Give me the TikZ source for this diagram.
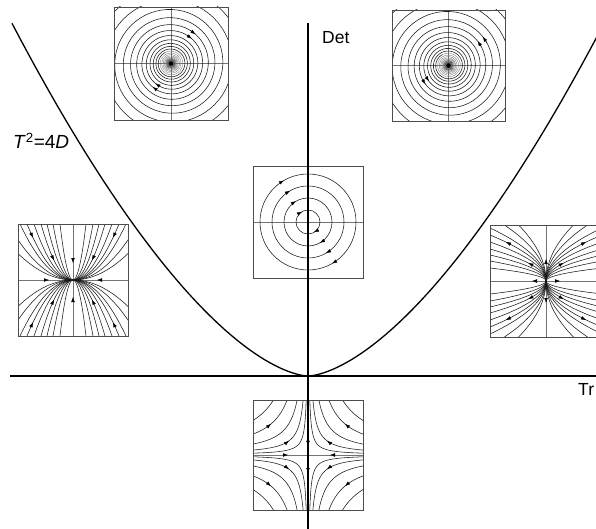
\documentclass[tikz,border=0pt]{standalone}
\usepackage{fontspec}
\setmainfont{Liberation Sans}
\usetikzlibrary{arrows.meta}
\newcommand\SpArr[2]{\draw[ah] ({85*exp(-0.000454*(#1))*cos(#1)},{85*exp(-0.000454*(#1))*sin(#1)}) -- ({85*exp(-0.000454*(#2))*cos(#2)},{85*exp(-0.000454*(#2))*sin(#2)});}
\newcommand\Ah[4]{\draw[ah] ({#1-#3},{#2-#4}) -- (#1,#2);}
\begin{document}
\begin{tikzpicture}[x=1pt,y=-1pt,
  boxnode/.style={inner sep=0pt, outer sep=0pt, fill=white},
  frame/.style={draw=black!70, line width=0.9pt},
  inaxis/.style={draw=black!55, line width=0.7pt},
  traj/.style={draw=black!90, line width=0.55pt},
  trajthin/.style={draw=black!60, line width=0.3pt},
  mainaxis/.style={draw=black, line width=1.1pt},
  curve/.style={draw=black, line width=1.3pt},
  ah/.style={draw=black, line width=0.4pt, -{Latex[length=5pt,width=3.6pt]}},
  lab/.style={anchor=base west, inner sep=0pt, font=\fontsize{17.5}{20}\selectfont}]

\useasboundingbox (0,0) rectangle (596,529);

% ---------- boxes ----------
\node[boxnode, minimum width=114pt, minimum height=113pt] (stabsp) at (171,63.5) {};
\node[boxnode, minimum width=113pt, minimum height=111pt] (unstsp) at (448.5,65.5) {};
\node[boxnode, minimum width=110pt, minimum height=112pt] (centre) at (308,222) {};
\node[boxnode, minimum width=110pt, minimum height=112pt] (snode) at (73,280) {};
\node[boxnode, minimum width=112pt, minimum height=112pt] (unode) at (546,281) {};
\node[boxnode, minimum width=110pt, minimum height=110pt] (saddle) at (308,455) {};

% ---------- stable spiral ----------
\begin{scope}
  \clip (stabsp.south west) rectangle (stabsp.north east);
  \draw[inaxis] (stabsp.west) -- (stabsp.east) (stabsp.north) -- (stabsp.south);
  \begin{scope}[shift={(stabsp.center)}]
    \draw[traj] plot[domain=0:4200, samples=700] ({85*exp(-0.000454*\x)*cos(\x)},{85*exp(-0.000454*\x)*sin(\x)});
    \draw[trajthin] plot[domain=4200:8900, samples=900] ({85*exp(-0.000454*\x)*cos(\x)},{85*exp(-0.000454*\x)*sin(\x)});
    \fill (0,0) circle (2.3pt);
    \SpArr{1740}{1750}
    \SpArr{2100}{2110}
    \SpArr{2278}{2288}
    \SpArr{2638}{2648}
  \end{scope}
\end{scope}
\draw[frame] (stabsp.south west) rectangle (stabsp.north east);

% ---------- unstable spiral ----------
\begin{scope}
  \clip (unstsp.south west) rectangle (unstsp.north east);
  \draw[inaxis] (unstsp.west) -- (unstsp.east) (unstsp.north) -- (unstsp.south);
  \begin{scope}[shift={(unstsp.center)}]
    \draw[traj] plot[domain=0:4200, samples=700] ({85*exp(-0.000454*\x)*cos(\x)},{85*exp(-0.000454*\x)*sin(\x)});
    \draw[trajthin] plot[domain=4200:8900, samples=900] ({85*exp(-0.000454*\x)*cos(\x)},{85*exp(-0.000454*\x)*sin(\x)});
    \fill (0,0) circle (2.3pt);
    \SpArr{1410}{1400}
    \SpArr{1770}{1760}
    \SpArr{2311}{2301}
    \SpArr{2671}{2661}
  \end{scope}
\end{scope}
\draw[frame] (unstsp.south west) rectangle (unstsp.north east);

% ---------- centre ----------
\begin{scope}
  \clip (centre.south west) rectangle (centre.north east);
  \draw[inaxis] (centre.west) -- (centre.east) (centre.north) -- (centre.south);
  \begin{scope}[shift={(centre.center)}]
    \foreach \r in {12,24,36,48}{
      \draw[traj] (0,0) circle (\r pt);
      \Ah{-0.5*\r}{-0.866*\r}{2.6}{-1.5}
      \Ah{0.5*\r}{0.866*\r}{-2.6}{1.5}
    }
  \end{scope}
\end{scope}
\draw[frame] (centre.south west) rectangle (centre.north east);

% ---------- stable node ----------
\begin{scope}
  \clip (snode.south west) rectangle (snode.north east);
  \draw[inaxis] (snode.west) -- (snode.east) (snode.north) -- (snode.south);
  \begin{scope}[shift={(snode.center)}]
    \foreach \a in {13,20,26,32,39,46,53,65,80}{
      \pgfmathsetmacro\mm{min(1.08*\a,58)}
      \draw[traj] plot[domain=-\mm:\mm, samples=61] (\x,{-56*(\x/\a)*(\x/\a)});
      \draw[traj] plot[domain=-\mm:\mm, samples=61] (\x,{56*(\x/\a)*(\x/\a)});
    }
    \Ah{-24}{0}{3}{0}
    \Ah{24}{0}{-3}{0}
    \Ah{0}{-17}{0}{3}
    \Ah{0}{17}{0}{-3}
    \Ah{-40}{-42.3}{1.28}{2.71}
    \Ah{40}{-42.3}{-1.28}{2.71}
    \Ah{-40}{42.3}{1.28}{-2.71}
    \Ah{40}{42.3}{-1.28}{-2.71}
    \Ah{-19}{-19.7}{1.32}{2.7}
    \Ah{19}{-19.7}{-1.32}{2.7}
    \Ah{-19}{19.7}{1.32}{-2.7}
    \Ah{19}{19.7}{-1.32}{-2.7}
  \end{scope}
\end{scope}
\draw[frame] (snode.south west) rectangle (snode.north east);

% ---------- unstable node ----------
\begin{scope}
  \clip (unode.south west) rectangle (unode.north east);
  \draw[inaxis] (unode.west) -- (unode.east) (unode.north) -- (unode.south);
  \begin{scope}[shift={(unode.center)}]
    \foreach \a in {13,20,26,32,39,46,53,65,80}{
      \pgfmathsetmacro\mm{min(1.08*\a,58)}
      \draw[traj] plot[domain=-\mm:\mm, samples=61] ({-56*(\x/\a)*(\x/\a)},\x);
      \draw[traj] plot[domain=-\mm:\mm, samples=61] ({56*(\x/\a)*(\x/\a)},\x);
    }
    \Ah{-14}{0}{-3}{0}
    \Ah{14}{0}{3}{0}
    \Ah{0}{-22}{0}{-3}
    \Ah{0}{22}{0}{3}
    \Ah{-40}{-39}{-2.7}{-1.32}
    \Ah{40}{-39}{2.7}{-1.32}
    \Ah{-40}{39}{-2.7}{1.32}
    \Ah{40}{39}{2.7}{1.32}
    \Ah{-17.7}{-18}{-2.68}{-1.36}
    \Ah{17.7}{-18}{2.68}{-1.36}
    \Ah{-17.7}{18}{-2.68}{1.36}
    \Ah{17.7}{18}{2.68}{1.36}
  \end{scope}
\end{scope}
\draw[frame] (unode.south west) rectangle (unode.north east);

% ---------- saddle ----------
\begin{scope}
  \clip (saddle.south west) rectangle (saddle.north east);
  \draw[inaxis] (saddle.west) -- (saddle.east) (saddle.north) -- (saddle.south);
  \begin{scope}[shift={(saddle.center)}]
    \foreach \c in {100,270,600,1150,1900}{
      \pgfmathsetmacro\sq{sqrt(\c)}
      \pgfmathsetmacro\Lm{ln(60/\sq)}
      \foreach \sgx/\sgy in {1/1,1/-1,-1/1,-1/-1}{
        \draw[traj] plot[domain=-\Lm:\Lm, samples=50] ({\sgx*\sq*exp(\x)},{\sgy*\sq*exp(-\x)});
      }
    }
    \Ah{-20}{0}{3}{0}
    \Ah{22}{0}{-3}{0}
    \Ah{0}{-18}{0}{-3}
    \Ah{0}{18}{0}{3}
    \Ah{-37}{-31.1}{2.3}{-1.93}
    \Ah{37}{-31.1}{-2.3}{-1.93}
    \Ah{-37}{31.1}{2.3}{1.93}
    \Ah{37}{31.1}{-2.3}{1.93}
    \Ah{-19}{-14.2}{2.4}{-1.8}
    \Ah{19}{-14.2}{-2.4}{-1.8}
    \Ah{-19}{14.2}{2.4}{1.8}
    \Ah{19}{14.2}{-2.4}{1.8}
  \end{scope}
\end{scope}
\draw[frame] (saddle.south west) rectangle (saddle.north east);

% ---------- main axes and parabola ----------
\coordinate (dtop) at (308,23);
\coordinate (dbot) at (308,529);
\coordinate (tleft) at (10,376);
\coordinate (tright) at (600,376);
\draw[mainaxis] (tleft) -- (tright);
\draw[mainaxis] (dbot) -- (dtop);
\draw[curve] plot[domain=-296:292, samples=300] ({308+\x},{376-0.0392*(max(abs(\x),0.01))^1.6});

% ---------- labels ----------
\node[lab] (det) at (322,44) {Det};
\node[lab] (tr) at (578,395) {Tr};
\node[lab, font=\fontsize{19}{22}\selectfont] (eq) at (13,148.5) {\textit{T}\textsuperscript{2}=4\textit{D}};
\end{tikzpicture}
\end{document}
